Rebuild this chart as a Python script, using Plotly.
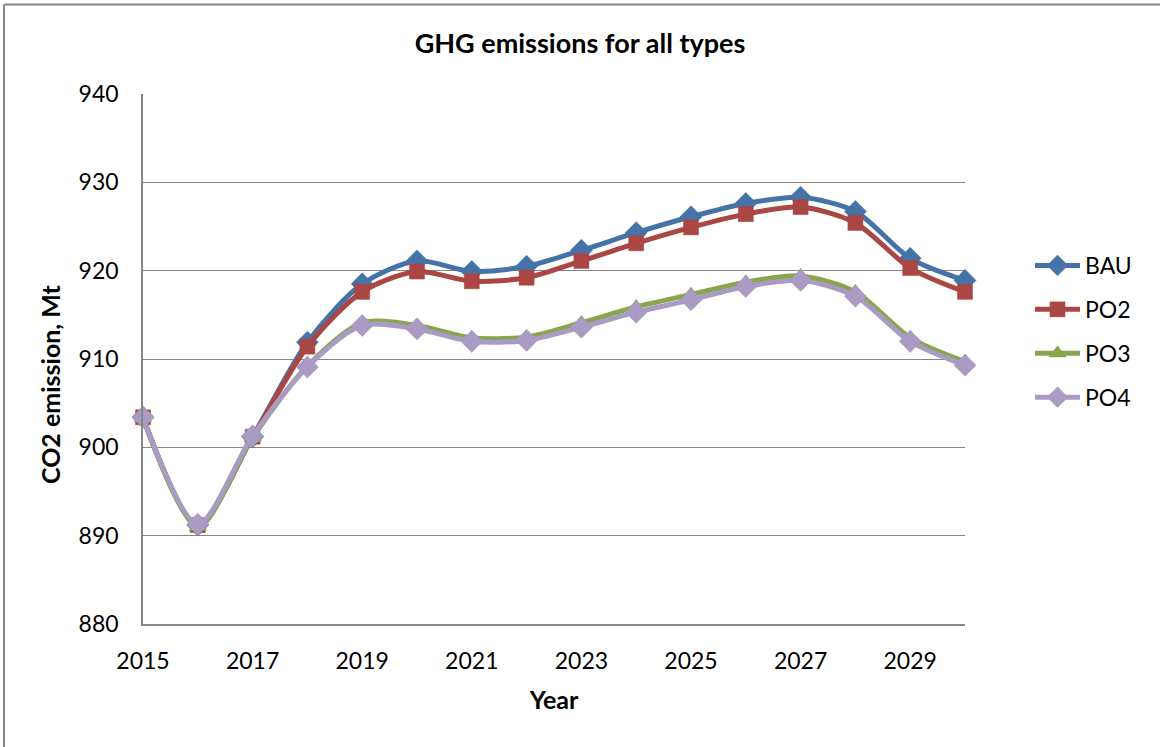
import plotly.graph_objects as go

# Annual GHG emissions (CO2 equivalent, Mt) by scenario
years = list(range(2015, 2031))
bau = [903.4, 891.2, 901.2, 911.9, 918.5, 921.1, 919.9, 920.5, 922.3, 924.3, 926.1, 927.6, 928.3, 926.7, 921.4, 918.9]
po2 = [903.4, 891.2, 901.2, 911.4, 917.6, 919.9, 918.8, 919.2, 921.1, 923.1, 924.9, 926.4, 927.2, 925.4, 920.3, 917.6]
po3 = [903.3, 891.0, 901.1, 909.2, 914.1, 913.8, 912.4, 912.5, 914.1, 915.9, 917.3, 918.7, 919.4, 917.6, 912.4, 909.7]
po4 = [903.4, 891.3, 901.3, 909.1, 913.8, 913.4, 912.0, 912.1, 913.6, 915.3, 916.7, 918.2, 918.9, 917.1, 912.0, 909.3]

series = [
    ("BAU", bau, "#4572A7", "diamond", 17),
    ("PO2", po2, "#AA4643", "square", 15),
    ("PO3", po3, "#89A54E", "triangle-up", 15),
    ("PO4", po4, "#A99BC3", "diamond", 17),
]

x_ticks = list(range(2015, 2031, 2))
y_ticks = list(range(880, 941, 10))

FONT = "Lato, 'Open Sans', sans-serif"
GRID = "#868686"

fig = go.Figure()
for name, vals, color, symbol, size in series:
    fig.add_trace(go.Scatter(
        x=years, y=vals, name=name, legendgroup=name, mode="lines+markers",
        cliponaxis=False,
        line=dict(color=color, width=5, shape="spline", smoothing=0.8),
        marker=dict(symbol=symbol, size=size, color=color,
                    line=dict(color=color, width=0.5)),
    ))

W, H = 1160, 747
L, R, T, B = 143, 195, 94, 123
pw, ph = W - L - R, H - T - B

def px_x(p):
    return (p - L) / pw

def px_y(p):
    return (H - B - p) / ph

fig.update_layout(
    width=W, height=H,
    margin=dict(l=L, r=R, t=T, b=B),
    paper_bgcolor="white", plot_bgcolor="white",
    font=dict(family=FONT, size=23, color="#000000"),
    title=dict(text="<b>GHG emissions for all types</b>", x=0.5, xanchor="center",
               y=1 - 44 / H, yanchor="middle",
               font=dict(family=FONT, size=27)),
    xaxis=dict(range=[2015, 2030], tickvals=x_ticks, ticktext=[str(v) for v in x_ticks],
               showgrid=False, zeroline=False, showline=True, linecolor=GRID, linewidth=1.5,
               ticks="", ticklabelstandoff=16,
               title=dict(text="<b>Year</b>", font=dict(size=25), standoff=18)),
    yaxis=dict(range=[880, 940], tickvals=y_ticks, showgrid=True, gridcolor=GRID, gridwidth=1.3,
               zeroline=False, showline=True, linecolor=GRID, linewidth=1.5, ticks="",
               ticklabelstandoff=18),
    legend=dict(x=px_x(1030), y=px_y(244), xanchor="left", yanchor="top",
                font=dict(size=23), bgcolor="rgba(0,0,0,0)", itemwidth=45,
                tracegroupgap=11),
    showlegend=True,
    annotations=[
        dict(text="<b>CO2 emission, Mt</b>", xref="paper", yref="paper",
             x=px_x(50), y=px_y(384), xanchor="center", yanchor="middle",
             textangle=-90, showarrow=False, font=dict(size=25)),
    ],
    shapes=[
        dict(type="line", xref="paper", yref="paper", x0=px_x(4), x1=px_x(1165),
             y0=px_y(4.5), y1=px_y(4.5), line=dict(color=GRID, width=2)),
        dict(type="line", xref="paper", yref="paper", x0=px_x(4), x1=px_x(4),
             y0=px_y(4.5), y1=px_y(760), line=dict(color=GRID, width=2)),
    ],
)

fig.write_html("out.html")
